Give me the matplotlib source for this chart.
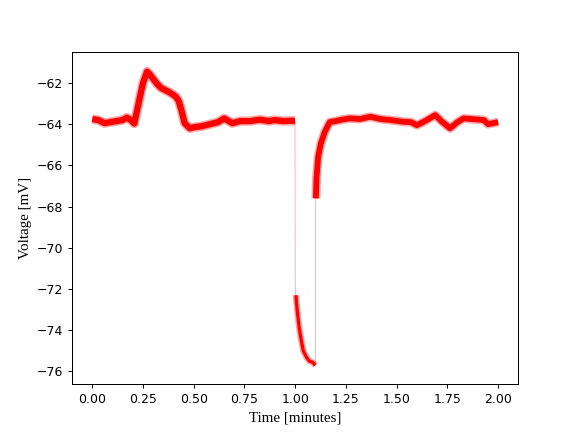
import numpy as np
import matplotlib.pyplot as plt

# Trace values (time in minutes, voltage in mV)
t_pre = [0.00, 0.03, 0.06, 0.09, 0.12, 0.15, 0.17, 0.19, 0.207, 0.23, 0.25, 0.27,
         0.285, 0.30, 0.32, 0.34, 0.38, 0.41, 0.425, 0.44, 0.455, 0.48, 0.50, 0.54,
         0.58, 0.62, 0.65, 0.69, 0.73, 0.78, 0.825, 0.87, 0.90, 0.94, 0.999]
v_pre = [-63.75, -63.80, -63.95, -63.90, -63.85, -63.80, -63.68, -63.80, -63.97, -62.9,
         -62.0, -61.45, -61.6, -61.8, -62.05, -62.25, -62.45, -62.65, -62.85, -63.35,
         -63.95, -64.2, -64.15, -64.1, -64.0, -63.9, -63.72, -63.95, -63.85, -63.85,
         -63.78, -63.85, -63.8, -63.85, -63.83]

t_hyp = [1.000, 1.003, 1.01, 1.02, 1.03, 1.04, 1.055, 1.07, 1.085, 1.099]
v_hyp = [-71.8, -72.3, -73.05, -73.9, -74.5, -75.0, -75.3, -75.5, -75.55, -75.7]

t_rec = [1.100, 1.102, 1.105, 1.113, 1.126, 1.146, 1.17, 1.20, 1.23, 1.27, 1.32, 1.37,
         1.42, 1.47, 1.53, 1.57, 1.60, 1.64, 1.69, 1.72, 1.763, 1.80, 1.83, 1.87, 1.93,
         1.95, 2.00]
v_rec = [-68.3, -67.6, -66.6, -65.6, -64.95, -64.37, -63.9, -63.85, -63.78, -63.72,
         -63.75, -63.64, -63.75, -63.8, -63.88, -63.9, -64.05, -63.85, -63.56, -63.85,
         -64.2, -63.9, -63.72, -63.75, -63.8, -64.0, -63.9]

t_all = t_pre + t_hyp + t_rec
v_all = v_pre + v_hyp + v_rec

fig, ax = plt.subplots(figsize=(6.4, 4.8), dpi=90)

# thin full trace (shows the step jumps)
ax.plot(t_all, v_all, color='red', lw=0.5, alpha=0.45)
# noisy band: faint wide halo + solid core
for t, v, w in [(t_pre, v_pre, 5.0), (t_hyp[1:], v_hyp[1:], 2.6), (t_rec[1:], v_rec[1:], 4.6)]:
    ax.plot(t, v, color='red', lw=w + 2.5, alpha=0.35, solid_joinstyle='round', solid_capstyle='butt')
    ax.plot(t, v, color='red', lw=w, solid_joinstyle='round', solid_capstyle='butt')

ax.set_ylim(-76.63, -60.49)
ax.set_xticks(np.arange(0, 2.01, 0.25))
ax.set_xlabel("Time [minutes]", family='Liberation Serif', fontsize=12)
ax.set_ylabel("Voltage [mV]", family='Liberation Serif', fontsize=12)

plt.savefig("out.png")
